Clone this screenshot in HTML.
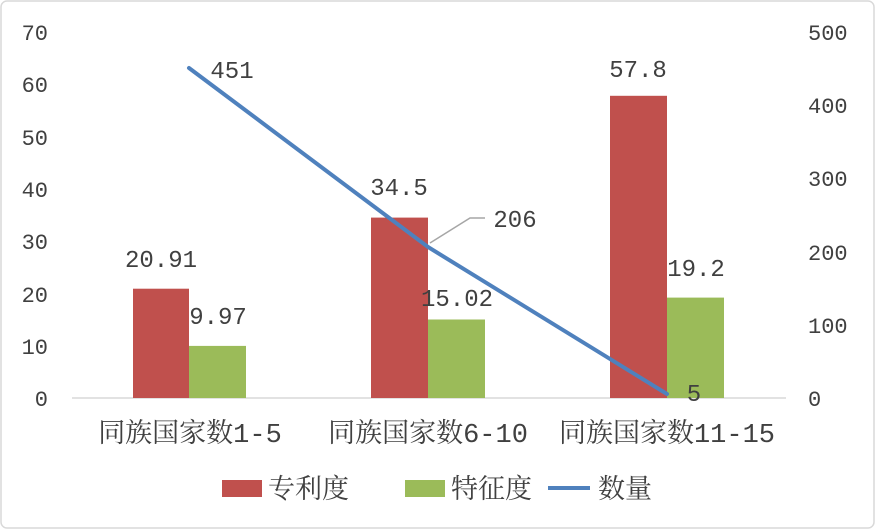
<!DOCTYPE html>
<html><head><meta charset="utf-8"><style>
html,body{margin:0;padding:0;background:#fff;}
svg{display:block;}
text{font-family:"Liberation Mono","Noto Serif CJK SC",monospace;fill:#404040;}
.c{font-family:"Liberation Mono","Noto Sans CJK SC",sans-serif;}
</style></head><body>
<svg width="875" height="530" viewBox="0 0 875 530">
<rect x="1" y="1" width="873" height="527" rx="6" fill="#fff" stroke="#d9d9d9" stroke-width="1.5"/>
<line x1="72" y1="398" x2="786" y2="398" stroke="#d9d9d9" stroke-width="1.5"/>
<g font-size="22" text-anchor="end">
<text x="48" y="406">0</text><text x="48" y="354">10</text><text x="48" y="302">20</text>
<text x="48" y="249">30</text><text x="48" y="197">40</text><text x="48" y="145">50</text>
<text x="48" y="92">60</text><text x="48" y="40">70</text>
</g>
<g font-size="22" text-anchor="start">
<text x="808" y="406">0</text><text x="808" y="333">100</text><text x="808" y="260">200</text>
<text x="808" y="186">300</text><text x="808" y="113">400</text><text x="808" y="40">500</text>
</g>
<g fill="#c0504d">
<rect x="133" y="288.7" width="56" height="109.3"/>
<rect x="371" y="217.6" width="57" height="180.4"/>
<rect x="610" y="95.8" width="57" height="302.2"/>
</g>
<g fill="#9bbb59">
<rect x="189" y="345.9" width="57" height="52.1"/>
<rect x="428" y="319.5" width="57" height="78.5"/>
<rect x="667" y="297.6" width="57" height="100.4"/>
</g>
<polyline points="189,68 428,247 667,394" fill="none" stroke="#4f81bd" stroke-width="4" stroke-linecap="round"/>
<polyline points="430,243 470,218 485,218" fill="none" stroke="#a6a6a6" stroke-width="1.5"/>
<g font-size="24" text-anchor="middle">
<text x="161" y="267">20.91</text><text x="218" y="324">9.97</text>
<text x="399" y="195">34.5</text><text x="457" y="306">15.02</text>
<text x="638" y="77">57.8</text><text x="696" y="276">19.2</text>
<text x="232" y="78">451</text><text x="515" y="227">206</text><text x="694" y="401">5</text>
</g>
<g font-size="27" text-anchor="middle" class="c">
<text x="190" y="442">同族国家数1-5</text>
<text x="428" y="442">同族国家数6-10</text>
<text x="667" y="442">同族国家数11-15</text>
</g>
<rect x="222" y="480" width="40" height="17" fill="#c0504d"/>
<rect x="405" y="480" width="40" height="17" fill="#9bbb59"/>
<line x1="548" y1="488" x2="590" y2="488" stroke="#4f81bd" stroke-width="4"/>
<g font-size="27" class="c">
<text x="268" y="498">专利度</text>
<text x="451" y="498">特征度</text>
<text x="598" y="498">数量</text>
</g>
</svg>
</body></html>
